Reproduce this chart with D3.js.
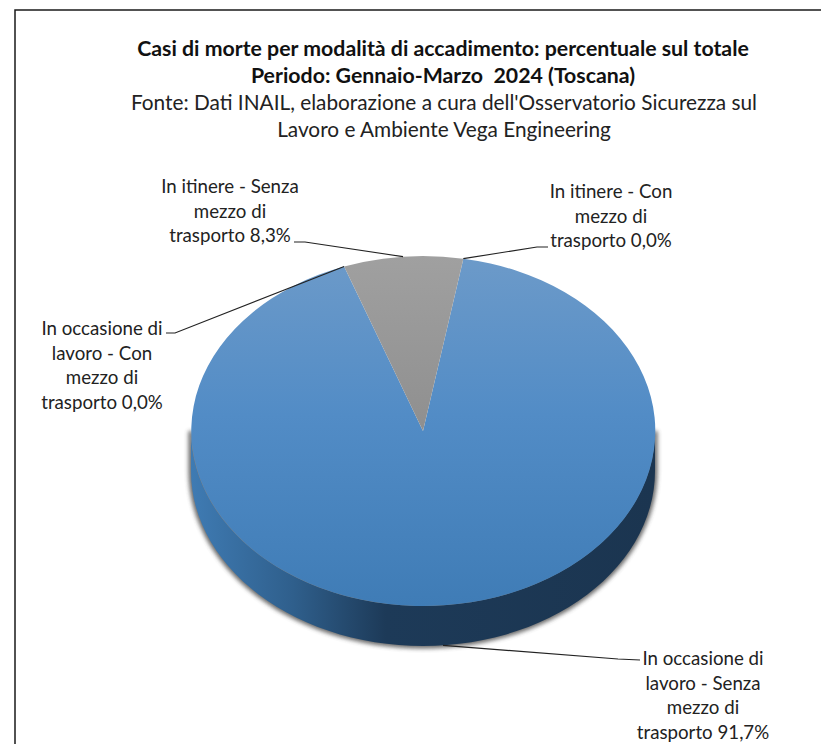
<!DOCTYPE html>
<html>
<head>
<meta charset="utf-8">
<script src="https://cdnjs.cloudflare.com/ajax/libs/d3/7.8.5/d3.min.js"></script>
<style>
html, body { margin: 0; padding: 0; background: #fff; }
svg { display: block; font-family: Lato, "Open Sans", sans-serif; }
</style>
</head>
<body>
<div id="chart"></div>
<script>
var categories = [
	"In occasione di lavoro - Senza mezzo di trasporto",
	"In occasione di lavoro - Con mezzo di trasporto",
	"In itinere - Senza mezzo di trasporto",
	"In itinere - Con mezzo di trasporto"
];
var values = [91.7, 0.0, 8.3, 0.0];
var labelLines = [
	["In occasione di", "lavoro - Senza", "mezzo di", "trasporto 91,7%"],
	["In occasione di", "lavoro - Con", "mezzo di", "trasporto 0,0%"],
	["In itinere - Senza", "mezzo di", "trasporto 8,3%"],
	["In itinere - Con", "mezzo di", "trasporto 0,0%"]
];
var titleLines = [
	"Casi di morte per modalità di accadimento: percentuale sul totale",
	"Periodo: Gennaio-Marzo  2024 (Toscana)"
];
var sourceLines = [
	"Fonte: Dati INAIL, elaborazione a cura dell'Osservatorio Sicurezza sul",
	"Lavoro e Ambiente Vega Engineering"
];

var width = 821, height = 744;
var cx = 423, cy = 431, rx = 232, ry = 175, depth = 40;
var firstAngle = 10 * Math.PI / 180;

// where each label block sits, where its leader leaves it and where the flat part ends
var labelPos = [
	{x: 703, y: 665, lx: 640, ly: 660, ex: 618, ey: 659},
	{x: 102, y: 335, lx: 166, ly: 333, ex: 175, ey: 333},
	{x: 230, y: 193, lx: 294, ly: 242, ex: 305, ey: 242},
	{x: 611, y: 198, lx: 548, ly: 247, ex: 537, ey: 247}
];

var svg = d3.select("#chart").append("svg")
	.attr("width", width)
	.attr("height", height);

var defs = svg.append("defs");

var topGrad = defs.append("linearGradient").attr("id", "topBlue")
	.attr("x1", 0).attr("y1", 0).attr("x2", 0).attr("y2", 1);
topGrad.append("stop").attr("offset", "0%").attr("stop-color", "#6c9ac9");
topGrad.append("stop").attr("offset", "45%").attr("stop-color", "#528cc6");
topGrad.append("stop").attr("offset", "100%").attr("stop-color", "#3f7cb6");

var greyGrad = defs.append("linearGradient").attr("id", "topGrey")
	.attr("x1", 0).attr("y1", 0).attr("x2", 0).attr("y2", 1);
greyGrad.append("stop").attr("offset", "0%").attr("stop-color", "#a0a0a0");
greyGrad.append("stop").attr("offset", "100%").attr("stop-color", "#8f8f8f");

var sideGrad = defs.append("linearGradient").attr("id", "sideBlue")
	.attr("gradientUnits", "userSpaceOnUse")
	.attr("x1", cx - rx).attr("y1", 0).attr("x2", cx + rx).attr("y2", 0);
sideGrad.append("stop").attr("offset", "0%").attr("stop-color", "#3f7bb3");
sideGrad.append("stop").attr("offset", "22%").attr("stop-color", "#2f5f8c");
sideGrad.append("stop").attr("offset", "42%").attr("stop-color", "#1d3a58");
sideGrad.append("stop").attr("offset", "100%").attr("stop-color", "#1b3550");

var blur = defs.append("filter").attr("id", "soft")
	.attr("x", "-10%").attr("y", "-10%").attr("width", "120%").attr("height", "120%");
blur.append("feGaussianBlur").attr("stdDeviation", 2);

// frame of the chart area
svg.append("path")
	.attr("d", "M15," + height + "V10H" + width)
	.attr("fill", "none")
	.attr("stroke", "#1a1a1a")
	.attr("stroke-width", 1.5);

var titleG = svg.append("g").attr("text-anchor", "middle").attr("fill", "#111");
titleLines.forEach(function(t, i){
	titleG.append("text")
		.attr("x", 443).attr("y", 56 + i * 27)
		.attr("font-size", 21.3).attr("font-weight", 700)
		.attr("xml:space", "preserve").style("white-space", "pre")
		.text(t);
});
sourceLines.forEach(function(t, i){
	titleG.append("text")
		.attr("x", 444).attr("y", 110 + i * 27)
		.attr("font-size", 20.8).attr("fill", "#222")
		.text(t);
});

var pie = d3.pie().sort(null)
	.startAngle(firstAngle)
	.endAngle(firstAngle + 2 * Math.PI);
var arcs = pie(values);
var unitArc = d3.arc().innerRadius(0).outerRadius(1);

function onRim(a){
	return [cx + rx * Math.sin(a), cy - ry * Math.cos(a)];
}

// the wall below the front half of the ellipse
var rimPts = d3.range(0, 181, 3).map(function(d){
	return onRim((90 + d) * Math.PI / 180);
});
var wallPath = d3.line()(rimPts) + "L" + rimPts.slice().reverse().map(function(p){
	return p[0] + "," + (p[1] + depth);
}).join("L") + "Z";

svg.append("path")
	.attr("d", wallPath)
	.attr("fill", "#444")
	.attr("stroke", "#444")
	.attr("stroke-width", 5)
	.attr("opacity", 0.8)
	.attr("filter", "url(#soft)");

svg.append("path").attr("d", wallPath).attr("fill", "url(#sideBlue)");

var topFace = svg.append("g")
	.attr("transform", "translate(" + cx + "," + cy + ") scale(" + rx + "," + ry + ")");
topFace.selectAll("path")
	.data(arcs)
	.join("path")
	.attr("d", unitArc)
	.attr("fill", function(d, i){ return i === 2 ? "url(#topGrey)" : "url(#topBlue)"; });

// leaders run from the label to the slice's rim point
var leader = d3.line();
svg.append("g").selectAll("path")
	.data(arcs)
	.join("path")
	.attr("d", function(d, i){
		var p = onRim((d.startAngle + d.endAngle) / 2);
		if (i === 0) p = [p[0], p[1] + depth];
		return leader([[labelPos[i].lx, labelPos[i].ly], [labelPos[i].ex, labelPos[i].ey], p]);
	})
	.attr("fill", "none")
	.attr("stroke", "#222")
	.attr("stroke-width", 1.1);

var labels = svg.append("g").attr("text-anchor", "middle").attr("fill", "#222")
	.attr("font-size", 18.7);
labelLines.forEach(function(lines, i){
	lines.forEach(function(t, j){
		labels.append("text")
			.attr("x", labelPos[i].x)
			.attr("y", labelPos[i].y + j * 24.6)
			.text(t);
	});
});
</script>
</body>
</html>
